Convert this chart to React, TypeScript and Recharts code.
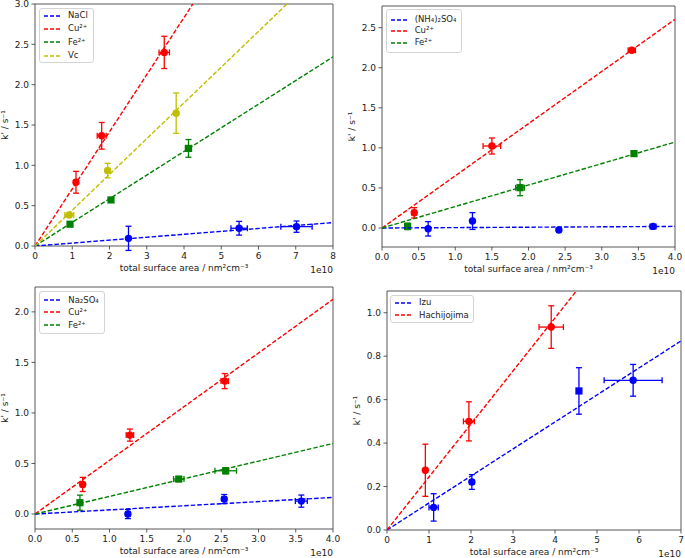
import React from 'react';
import { ScatterChart, Scatter, XAxis, YAxis, ErrorBar, ReferenceArea, Legend, Label } from 'recharts';

const FONT = "'DejaVu Sans', Verdana, sans-serif";
const BLUE = '#0000ff';
const RED = '#ff0000';
const GREEN = '#008000';
const YEL = '#bfbf00';

// ---------- Panel A (NaCl) : x in units of 1e10 nm^2 cm^-3 ----------
const aNaClX = [2.51, 5.48, 7.02];
const aNaClY = [0.095, 0.22, 0.24];
const aNaClEx = [0.0, 0.22, 0.42];
const aNaClEy = [0.15, 0.085, 0.07];
const aCuX = [1.1, 1.79, 3.47];
const aCuY = [0.79, 1.366, 2.4];
const aCuEx = [0.05, 0.12, 0.14];
const aCuEy = [0.135, 0.165, 0.2];
const aFeX = [0.94, 2.04, 4.12];
const aFeY = [0.27, 0.571, 1.21];
const aFeEx = [0.05, 0.05, 0.08];
const aFeEy = [0.02, 0.02, 0.11];
const aVcX = [0.92, 1.95, 3.79];
const aVcY = [0.385, 0.935, 1.647];
const aVcEx = [0.12, 0.06, 0.05];
const aVcEy = [0.02, 0.09, 0.25];
const aSlopes = [0.0363, 0.708, 0.293, 0.4435];

// ---------- Panel B ((NH4)2SO4) ----------
const bAmsX = [0.63, 1.235, 2.415, 3.7];
const bAmsY = [-0.01, 0.087, -0.025, 0.02];
const bAmsEx = [0.0, 0.0, 0.0, 0.04];
const bAmsEy = [0.09, 0.105, 0.02, 0.02];
const bCuX = [0.44, 1.5, 3.41];
const bCuY = [0.19, 1.023, 2.217];
const bCuEx = [0.03, 0.12, 0.05];
const bCuEy = [0.065, 0.1, 0.02];
const bFeX = [0.35, 1.885, 3.44];
const bFeY = [0.02, 0.503, 0.928];
const bFeEx = [0.03, 0.06, 0.03];
const bFeEy = [0.04, 0.1, 0.02];
const bSlopes = [0.005, 0.651, 0.268];

// ---------- Panel C (Na2SO4) ----------
const cNaX = [1.247, 2.54, 3.575];
const cNaY = [0.0, 0.148, 0.128];
const cNaEx = [0.03, 0.03, 0.08];
const cNaEy = [0.045, 0.045, 0.06];
const cCuX = [0.64, 1.274, 2.547];
const cCuY = [0.293, 0.781, 1.315];
const cCuEx = [0.03, 0.05, 0.05];
const cCuEy = [0.07, 0.06, 0.075];
const cFeX = [0.603, 1.93, 2.56];
const cFeY = [0.112, 0.346, 0.428];
const cFeEx = [0.03, 0.07, 0.145];
const cFeEy = [0.075, 0.02, 0.03];
const cSlopes = [0.041, 0.531, 0.1746];

// ---------- Panel D (Izu / Hachijojima) ----------
const dIzuX = [1.11, 2.02, 4.57, 5.86];
const dIzuY = [0.104, 0.221, 0.64, 0.689];
const dIzuEx = [0.11, 0.05, 0.05, 0.69];
const dIzuEy = [0.063, 0.034, 0.107, 0.073];
const dHaX = [0.913, 1.95, 3.91];
const dHaY = [0.275, 0.5, 0.934];
const dHaEx = [0.03, 0.13, 0.29];
const dHaEy = [0.12, 0.09, 0.098];
const dSlopes = [0.1243, 0.244];

const xTicksA = [0, 1, 2, 3, 4, 5, 6, 7, 8];
const yTicksA = [0, 0.5, 1, 1.5, 2, 2.5, 3];
const xTicksB = [0, 0.5, 1, 1.5, 2, 2.5, 3, 3.5, 4];
const yTicksB = [0, 0.5, 1, 1.5, 2, 2.5];
const yTicksC = [0, 0.5, 1, 1.5, 2];
const xTicksD = [0, 1, 2, 3, 4, 5, 6, 7];
const yTicksD = [0, 0.2, 0.4, 0.6, 0.8, 1.0];

type Series = {
  name: string;
  color: string;
  xs: number[];
  ys: number[];
  ex: number[];
  ey: number[];
  slope: number;
  marker: string | string[];
};

const mk = (name: string, color: string, xs: number[], ys: number[], ex: number[], ey: number[], slope: number, marker: string | string[]): Series => ({ name, color, xs, ys, ex, ey, slope, marker });

const panelA: Series[] = [
  mk('NaCl', BLUE, aNaClX, aNaClY, aNaClEx, aNaClEy, aSlopes[0], 'o'),
  mk('Cu²⁺', RED, aCuX, aCuY, aCuEx, aCuEy, aSlopes[1], 'o'),
  mk('Fe²⁺', GREEN, aFeX, aFeY, aFeEx, aFeEy, aSlopes[2], 's'),
  mk('Vc', YEL, aVcX, aVcY, aVcEx, aVcEy, aSlopes[3], 'o'),
];
const panelB: Series[] = [
  mk('(NH₄)₂SO₄', BLUE, bAmsX, bAmsY, bAmsEx, bAmsEy, bSlopes[0], 'o'),
  mk('Cu²⁺', RED, bCuX, bCuY, bCuEx, bCuEy, bSlopes[1], 'o'),
  mk('Fe²⁺', GREEN, bFeX, bFeY, bFeEx, bFeEy, bSlopes[2], 's'),
];
const panelC: Series[] = [
  mk('Na₂SO₄', BLUE, cNaX, cNaY, cNaEx, cNaEy, cSlopes[0], 'o'),
  mk('Cu²⁺', RED, cCuX, cCuY, cCuEx, cCuEy, cSlopes[1], 'o'),
  mk('Fe²⁺', GREEN, cFeX, cFeY, cFeEx, cFeEy, cSlopes[2], 's'),
];
const panelD: Series[] = [
  mk('Izu', BLUE, dIzuX, dIzuY, dIzuEx, dIzuEy, dSlopes[0], ['o', 'o', 's', 'o']),
  mk('Hachijojima', RED, dHaX, dHaY, dHaEx, dHaEy, dSlopes[1], 'o'),
];

const toPoints = (s: Series) =>
  s.xs.map((x, i) => ({ x, y: s.ys[i], ex: s.ex[i], ey: s.ey[i], m: Array.isArray(s.marker) ? s.marker[i] : s.marker }));

const fitPoints = (slope: number, xMax: number, yMax: number) => {
  const xe = Math.min(xMax, yMax / slope);
  return [
    { x: 0, y: 0 },
    { x: xe, y: slope * xe },
  ];
};

const makeMarker = (color: string) => (props: any) => {
  const { cx, cy, payload } = props;
  if (cx == null || cy == null) return <g />;
  if (payload && payload.m === 's') {
    return <rect x={cx - 3.6} y={cy - 3.6} width={7.2} height={7.2} fill={color} />;
  }
  return <circle cx={cx} cy={cy} r={3.7} fill={color} />;
};

type LegendCfg = { left: number; top: number; w: number; h: number; rowH: number };

const LegendBox = ({ items, cfg }: { items: Series[]; cfg: LegendCfg }) => {
  const pad = (cfg.h - items.length * cfg.rowH) / 2 - 1;
  return (
    <div
      style={{
        boxSizing: 'border-box',
        width: cfg.w,
        height: cfg.h,
        border: '1px solid #d4d4d4',
        borderRadius: 3,
        background: 'rgba(255,255,255,0.85)',
        paddingTop: Math.max(0, pad),
        fontFamily: FONT,
        fontSize: 8.5,
        color: '#222',
      }}
    >
      {items.map((it) => (
        <div key={it.name} style={{ height: cfg.rowH, lineHeight: `${cfg.rowH}px`, display: 'flex', alignItems: 'center', whiteSpace: 'nowrap' }}>
          <svg width={16} height={4} style={{ marginLeft: 4, flex: 'none' }}>
            <line x1={0} y1={2} x2={16} y2={2} stroke={it.color} strokeWidth={1.4} strokeDasharray="4 2" />
          </svg>
          <span style={{ marginLeft: 8 }}>{it.name}</span>
        </div>
      ))}
    </div>
  );
};

type PanelCfg = {
  left: number;
  top: number;
  w: number;
  h: number;
  mt: number;
  mr: number;
  yw: number;
  xh: number;
  xDomain: [number, number];
  yDomain: [number, number];
  xTicks: number[];
  yTicks: number[];
  xFmt: (v: number) => string;
  yLabelX: number;
  legend: LegendCfg;
  series: Series[];
};

const intFmt = (v: number) => String(v);
const oneFmt = (v: number) => v.toFixed(1);

const Panel = ({ cfg }: { cfg: PanelCfg }) => {
  const [x0, x1] = cfg.xDomain;
  const [y0, y1] = cfg.yDomain;
  const tickStyle = { fontSize: 9, fill: '#222', fontFamily: FONT };
  return (
    <div style={{ position: 'absolute', left: cfg.left, top: cfg.top }}>
      <ScatterChart width={cfg.w} height={cfg.h} margin={{ top: cfg.mt, right: cfg.mr, bottom: 0, left: 0 }}>
        <XAxis
          type="number"
          dataKey="x"
          domain={cfg.xDomain}
          ticks={cfg.xTicks}
          interval={0}
          allowDataOverflow
          height={cfg.xh}
          tickFormatter={cfg.xFmt}
          tick={tickStyle}
          tickSize={3.5}
          tickMargin={3}
          axisLine={false}
          tickLine={{ stroke: '#333', strokeWidth: 0.8 }}
        >
          <Label
            content={(p: any) => {
              const vb = p.viewBox || {};
              return (
                <g>
                  <text x={vb.x + vb.width / 2} y={vb.y + 24.5} textAnchor="middle" fontSize={9} fontFamily={FONT} fill="#222">
                    total surface area / nm²cm⁻³
                  </text>
                  <text x={vb.x + vb.width} y={vb.y + 26.5} textAnchor="end" fontSize={9} fontFamily={FONT} fill="#222">
                    1e10
                  </text>
                </g>
              );
            }}
          />
        </XAxis>
        <YAxis
          type="number"
          dataKey="y"
          domain={cfg.yDomain}
          ticks={cfg.yTicks}
          interval={0}
          allowDataOverflow
          width={cfg.yw}
          tickFormatter={oneFmt}
          tick={tickStyle}
          tickSize={3.5}
          tickMargin={2.5}
          axisLine={false}
          tickLine={{ stroke: '#333', strokeWidth: 0.8 }}
        >
          <Label
            content={(p: any) => {
              const vb = p.viewBox || {};
              const cx = vb.x + cfg.yLabelX;
              const cy = vb.y + vb.height / 2;
              return (
                <text x={cx} y={cy + 3} transform={`rotate(-90 ${cx} ${cy})`} textAnchor="middle" fontSize={9} fontFamily={FONT} fill="#222">
                  k' / s⁻¹
                </text>
              );
            }}
          />
        </YAxis>
        <ReferenceArea x1={x0} x2={x1} y1={y0} y2={y1} fill="none" stroke="#444" strokeWidth={0.9} ifOverflow="visible" />
        {cfg.series.map((s) => (
          <Scatter
            key={'pts-' + s.name}
            name={s.name}
            data={toPoints(s)}
            fill={s.color}
            shape={makeMarker(s.color)}
            isAnimationActive={false}
            legendType="none"
          >
            <ErrorBar dataKey="ey" direction="y" width={3} stroke={s.color} strokeWidth={1.3} isAnimationActive={false} />
            <ErrorBar dataKey="ex" direction="x" width={3} stroke={s.color} strokeWidth={1.3} isAnimationActive={false} />
          </Scatter>
        ))}
        {cfg.series.map((s) => (
          <Scatter
            key={'fit-' + s.name}
            data={fitPoints(s.slope, x1, y1)}
            fill={s.color}
            line={{ stroke: s.color, strokeWidth: 1.4, strokeDasharray: '4.5 2' }}
            shape={() => <g />}
            isAnimationActive={false}
            legendType="none"
          />
        ))}
        <Legend
          layout="horizontal"
          verticalAlign="middle"
          align="center"
          wrapperStyle={{ left: cfg.legend.left, top: cfg.legend.top, width: cfg.legend.w, height: cfg.legend.h }}
          content={() => <LegendBox items={cfg.series} cfg={cfg.legend} />}
        />
      </ScatterChart>
    </div>
  );
};

const panels: PanelCfg[] = [
  {
    left: 0, top: 0, w: 340, h: 285, mt: 4, mr: 7, yw: 35, xh: 39,
    xDomain: [0, 8], yDomain: [0, 3], xTicks: xTicksA, yTicks: yTicksA, xFmt: intFmt, yLabelX: 5,
    legend: { left: 39, top: 8, w: 55, h: 55, rowH: 13.4 }, series: panelA,
  },
  {
    left: 340, top: 0, w: 345, h: 285, mt: 6, mr: 10, yw: 42, xh: 38,
    xDomain: [0, 4], yDomain: [-0.237, 2.77], xTicks: xTicksB, yTicks: yTicksB, xFmt: oneFmt, yLabelX: 11.7,
    legend: { left: 45.7, top: 9, w: 76, h: 44, rowH: 11.5 }, series: panelB,
  },
  {
    left: 0, top: 275, w: 340, h: 283, mt: 12, mr: 7, yw: 35, xh: 29,
    xDomain: [0, 4], yDomain: [-0.148, 2.246], xTicks: xTicksB, yTicks: yTicksC, xFmt: oneFmt, yLabelX: 5,
    legend: { left: 39.3, top: 16, w: 66, h: 43, rowH: 12.3 }, series: panelC,
  },
  {
    left: 340, top: 275, w: 345, h: 283, mt: 16, mr: 4, yw: 47, xh: 28,
    xDomain: [0, 7], yDomain: [0, 1.1], xTicks: xTicksD, yTicks: yTicksD, xFmt: intFmt, yLabelX: 16.7,
    legend: { left: 50, top: 20, w: 84, h: 28.3, rowH: 12.7 }, series: panelD,
  },
];

export default function App() {
  return (
    <div style={{ position: 'absolute', left: 0, top: 0, width: 685, height: 558, background: '#fff', overflow: 'hidden', fontFamily: FONT }}>
      {panels.map((p, i) => (
        <Panel key={i} cfg={p} />
      ))}
    </div>
  );
}
